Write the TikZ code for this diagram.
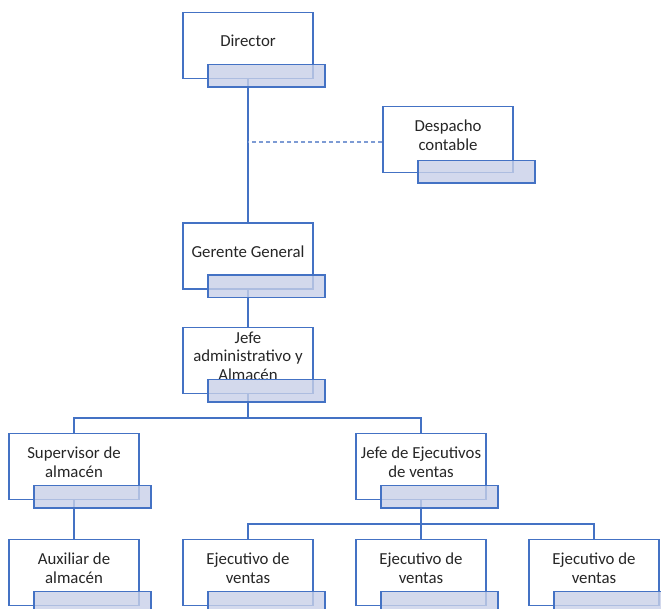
\documentclass[tikz,border=0pt]{standalone}
\usepackage{fontspec}
\setmainfont{Carlito}
\usetikzlibrary{calc,backgrounds}
\definecolor{azul}{RGB}{68,114,196}
\definecolor{azulclaro}{RGB}{125,155,212}
\definecolor{relleno}{RGB}{200,208,232}
\tikzset{
  caja/.style={draw=azul, line width=1.9pt, fill=white, minimum width=130, minimum height=66, inner sep=0pt},
  texto/.style={align=center, text=black!85, font=\fontsize{16.8}{18.5}\selectfont, inner sep=0pt},
  sombra/.style={draw=azul, line width=1.9pt, fill=relleno, fill opacity=0.8, minimum width=117, minimum height=22.5, inner sep=0pt, anchor=north west},
  linea/.style={draw=azul, line width=1.9pt},
  punteada/.style={draw=azulclaro, line width=1.2pt, dash pattern=on 4pt off 3pt}
}
\newcommand{\puesto}[4][(25,52)]{
  \node[caja] (#2) at #3 {};
  \node[texto] (#2-t) at ($(#2.center)+(0,-4.5)$) {#4};
  \node[sombra] (#2-s) at ($(#2.north west)+#1$) {};
}

\begin{document}
\begin{tikzpicture}[x=1pt, y=-1pt]
  \clip (0,0) rectangle (661,609);
  \puesto{dir}{(248,45.5)}{Director}
  \puesto[(35,54)]{desp}{(448,139.5)}{Despacho\\contable}
  \puesto{ger}{(248,256)}{Gerente General}
  \puesto{jad}{(248,360.5)}{Jefe\\administrativo y\\Almacén}
  \puesto{sup}{(74,466.5)}{Supervisor de\\almacén}
  \puesto{jej}{(421,466.5)}{Jefe de Ejecutivos\\de ventas}
  \puesto{aux}{(74,572.5)}{Auxiliar de\\almacén}
  \foreach[count=\i] \x in {248,421,594} {
    \puesto{ej\i}{(\x,572.5)}{Ejecutivo de\\ventas}
  }
  \coordinate (bus1) at (0,418);
  \coordinate (bus2) at (0,524);
  \begin{scope}[on background layer]
    \draw[linea] (dir.south) -- (ger.north);
    \draw[punteada] ($(desp.west)+(0,2.5)$) -- ($(desp.west -| dir.south)+(0,2.5)$);
    \draw[linea] (ger.south) -- (jad.north);
    \draw[linea] (jad.south) -- (jad.south |- bus1) -| (sup.north);
    \draw[linea] (jad.south |- bus1) -| (jej.north);
    \draw[linea] (sup.south) -- (aux.north);
    \draw[linea] (jej.south) -- (jej.south |- bus2);
    \foreach \i in {1,2,3} {
      \draw[linea] (jej.south |- bus2) -| (ej\i.north);
    }
  \end{scope}
\end{tikzpicture}
\end{document}
